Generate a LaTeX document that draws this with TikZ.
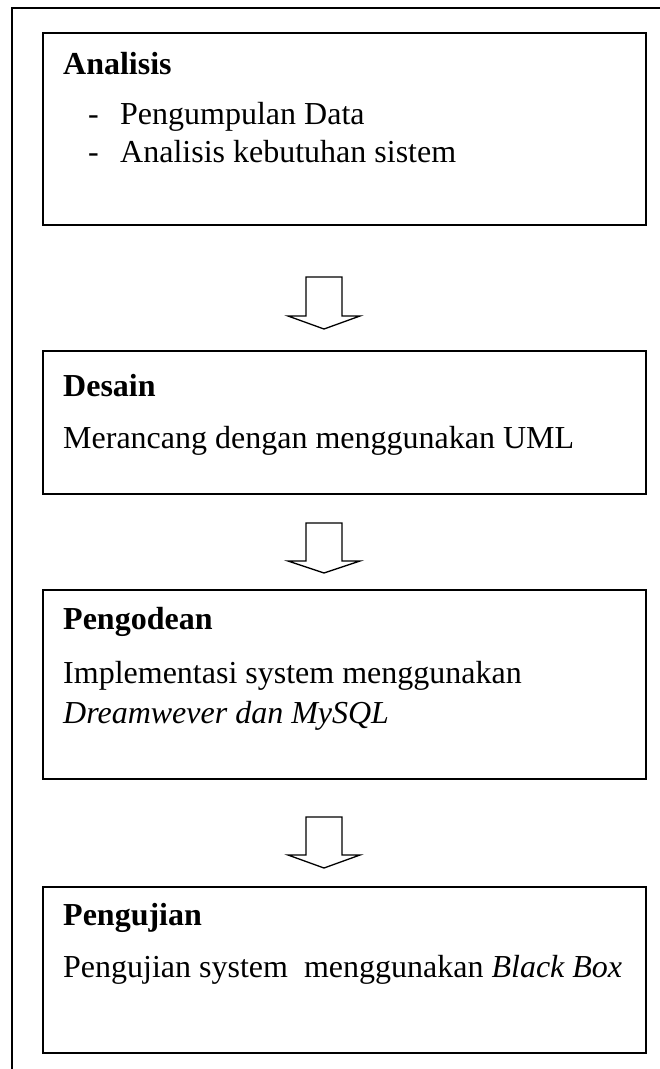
\documentclass[tikz,border=0pt]{standalone}
\usepackage{fontspec}
\setmainfont{Liberation Serif}
\usepackage{tikz}

\begin{document}
\begin{tikzpicture}[
            x = 1pt, y = -1pt, % pixel units, y downward
            stage/.style = {draw=black, line width=1.8pt},
            txt/.style = {anchor=base west, inner sep=0pt, font=\fontsize{32}{38}\selectfont},
            head/.style = {txt, font=\fontsize{32}{38}\selectfont\bfseries},
            blockarr/.style = {draw=black, line width=1.3pt, line join=miter}
        ]
\useasboundingbox (0,0) rectangle (660,1069);

% outer frame (open at right and bottom)
\draw[line width=1.5pt] (12,1069) -- (12,8) -- (660,8);

% stages
\draw[stage] (43,33) rectangle (646,225);
\draw[stage] (43,351) rectangle (646,494);
\draw[stage] (43,590) rectangle (646,779);
\draw[stage] (43,887) rectangle (646,1053);

\node[head] (analisis) at (63,74) {Analisis};
\node[txt] (dash1) at (88,124) {-};
\node[txt] (item1) at (120,124) {Pengumpulan Data};
\node[txt] (dash2) at (88,162) {-};
\node[txt] (item2) at (120,162) {Analisis kebutuhan sistem};

\node[head] (desain) at (63,396) {Desain};
\node[txt] (desaintxt) at (63,448) {Merancang dengan menggunakan UML};

\node[head] (pengodean) at (63,629) {Pengodean};
\node[txt] (kode1) at (63,683) {Implementasi system menggunakan};
\node[txt] (kode2) at (63,723) {\itshape Dreamwever dan MySQL};

\node[head] (pengujian) at (63,925) {Pengujian};
\node[txt] (ujitxt) at (63,977) {Pengujian system\ \ menggunakan \textit{Black Box}};

% block arrows
\foreach \t/\w/\p in {277/316/329, 523/561/573, 817/855/868}
  \draw[blockarr] (306,\t) -- (342,\t) -- (342,\w) -- (360,\w) -- (324,\p)
        -- (288,\w) -- (306,\w) -- cycle;
\end{tikzpicture}
\end{document}
